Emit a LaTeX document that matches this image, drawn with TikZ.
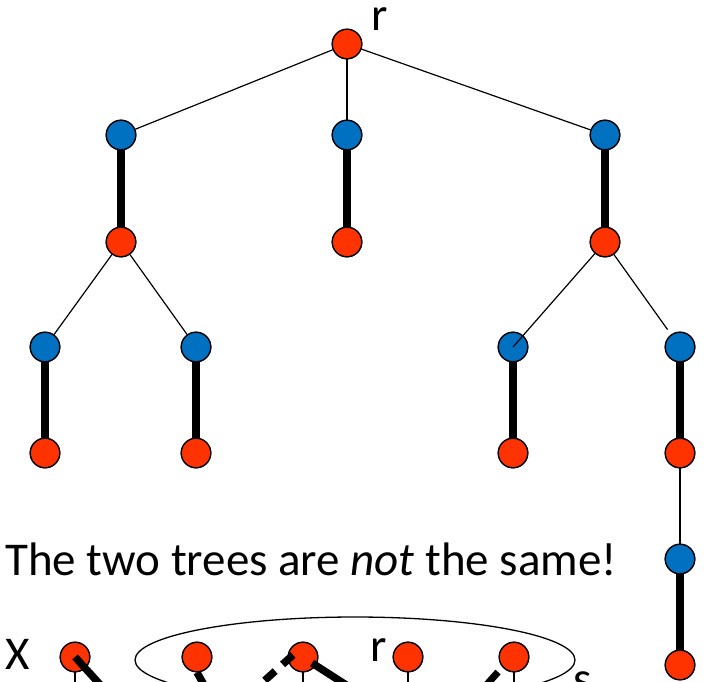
\documentclass[tikz,border=0pt]{standalone}
\usepackage{fontspec}
\setmainfont{Carlito}
\usetikzlibrary{calc,shapes.geometric}
\definecolor{nred}{HTML}{FF3300}
\definecolor{nblue}{HTML}{0070C0}
\begin{document}
\begin{tikzpicture}[x=1pt,y=-1pt,
  dot/.style={circle,draw=black,line width=1.3pt,minimum size=29.5pt,inner sep=0pt},
  rn/.style={dot,fill=nred},
  bn/.style={dot,fill=nblue},
  thinedge/.style={line width=1.2pt},
  thickedge/.style={line width=7.5pt},
  lbl/.style={font=\fontsize{47}{54}\selectfont,inner sep=0pt,anchor=base}]
\useasboundingbox (0,0) rectangle (717,681);
\clip (0,0) rectangle (717,681);
% top tree
\node[rn] (r) at (347,44) {};
\node[bn] (b1) at (121,135) {};
\node[bn] (b2) at (347,135) {};
\node[bn] (b3) at (605,135) {};
\node[rn] (r1) at (121,242) {};
\node[rn] (r2) at (347,242) {};
\node[rn] (r3) at (605,242) {};
\node[bn] (b4) at (45,347) {};
\node[bn] (b5) at (196,347) {};
\node[bn] (b6) at (513,347) {};
\node[bn] (b7) at (680,347) {};
\node[rn] (r4) at (45,453) {};
\node[rn] (r5) at (196,453) {};
\node[rn] (r6) at (513,453) {};
\node[rn] (r7) at (680,453) {};
\node[bn] (b8) at (680,559) {};
\node[rn] (r8) at (680,665) {};
\node[lbl] (rl) at (380,30) {r};
% bottom tree
\node[rn] (X) at (75,657) {};
\node[rn] (n2) at (197,657) {};
\node[rn] (n3) at (303,657) {};
\node[rn] (n4) at (408,657) {};
\node[rn] (n5) at (514,657) {};
\node[lbl] (Xl) at (18,669) {X};
\node[lbl] (rl2) at (379,661) {r};
\node[lbl] (sl) at (583,694) {s};
\node[lbl,anchor=base west] (txt) at (5,575) {The two trees are \textit{not} the same!};
\node[draw,ellipse,line width=1.3pt,minimum width=440pt,minimum height=86pt,inner sep=0pt] (ell) at (355,660) {};
% free ends
\coordinate (xe) at (116,702);
\coordinate (n2e) at (218,710);
\coordinate (n3d) at (233,709);
\coordinate (n3s) at (368,699);
\coordinate (n5a) at (498,672);
\coordinate (n5e) at (474,699);
% edges (drawn, then nodes redrawn on top)
\draw[thinedge] (r) -- (b1);
\draw[thinedge] (r) -- (b2);
\draw[thinedge] (r) -- (b3);
\draw[thickedge] (b1) -- (r1);
\draw[thickedge] (b2) -- (r2);
\draw[thickedge] (b3) -- (r3);
\draw[thinedge] (r1) -- (b4);
\draw[thinedge] (r1) -- (b5);
\draw[thinedge,shorten >=6pt] (r3) -- (b7);
\draw[thickedge] (b4) -- (r4);
\draw[thickedge] (b5) -- (r5);
\draw[thickedge] (b6) -- (r6);
\draw[thickedge] (b7) -- (r7);
\draw[thinedge] (r7) -- (b8);
\draw[thickedge] (b8) -- (r8);
\draw[thinedge] (X) -- ++(0,60);
\draw[thinedge] (n3) -- ++(0,60);
\draw[thinedge] (n4) -- ++(0,60);
\draw[thinedge] (n5) -- ++(0,60);
\draw[thickedge] (n2.south) -- (n2e);
\draw[thickedge,line width=7pt] (n5a) -- (n5e);
% redraw nodes on top of edges
\foreach \n/\s in {r/rn,b1/bn,b2/bn,b3/bn,r1/rn,r2/rn,r3/rn,b4/bn,b5/bn,b6/bn,b7/bn,r4/rn,r5/rn,r6/rn,r7/rn,b8/bn,r8/rn,X/rn,n2/rn,n3/rn,n4/rn,n5/rn}
  \node[\s] at (\n) {};
% edges over nodes
\draw[thinedge] (r3) -- (b6.center);
\draw[thickedge] (X.center) -- (xe);
\draw[thickedge,dash pattern=on 14pt off 10pt] ($(n3)+(-10,-2)$) -- (n3d);
\draw[thickedge] ($(n3)+(9,6)$) -- (n3s);
\end{tikzpicture}
\end{document}
